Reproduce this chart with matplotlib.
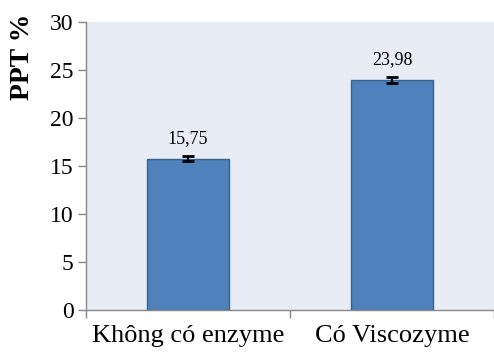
import matplotlib
matplotlib.use('Agg')
import matplotlib.pyplot as plt

categories = ['Không có enzyme', 'Có Viscozyme']
values = [15.75, 23.98]
errors = [0.25, 0.3]
value_labels = ['15,75', '23,98']

plt.rcParams['font.family'] = ['Liberation Serif', 'DejaVu Serif']

fig = plt.figure(figsize=(4.94, 3.52), dpi=100)
ax = fig.add_axes([0.174, 0.119, 0.826, 0.8185])
ax.set_facecolor('#E8ECF5')

x = list(range(len(categories)))
ax.bar(x, values, width=0.4, color='#4F81BD', edgecolor='#3A6190', linewidth=1.0, zorder=2)
ax.errorbar(x, values, yerr=errors, fmt='none', ecolor='black', elinewidth=1.5,
            capsize=4.5, capthick=2, zorder=3)
for xi, v, lab in zip(x, values, value_labels):
    ax.text(xi, v + 1.2, lab, ha='center', va='bottom', fontsize=13)

ax.set_xlim(-0.5, 1.5)
ax.set_ylim(0, 30)
ax.set_yticks(range(0, 31, 5))
ax.set_xticks(x)
ax.set_xticklabels(categories, fontsize=19)
ax.set_xticks([-0.5, 0.5, 1.5], minor=True)
ax.tick_params(axis='x', which='major', length=0, pad=11)
ax.tick_params(axis='x', which='minor', length=6, color='#888888', width=1)
ax.tick_params(axis='y', length=6, color='#888888', width=1, labelsize=17, pad=3)

for side in ['top', 'right']:
    ax.spines[side].set_visible(False)
for side in ['left', 'bottom']:
    ax.spines[side].set_color('#888888')
    ax.spines[side].set_linewidth(1.0)

fig.text(0.045, 0.96, 'PPT %', rotation=90, fontsize=20, fontweight='bold',
         ha='center', va='top')

fig.savefig('out.png', dpi=100)
